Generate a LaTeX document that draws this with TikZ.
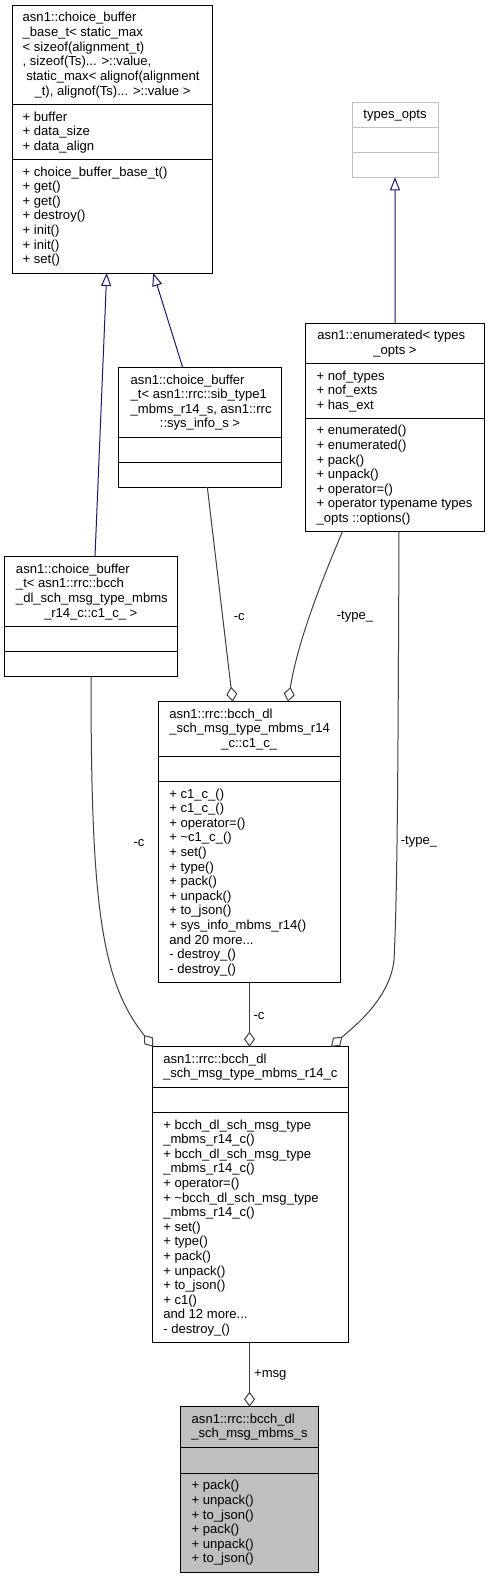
\documentclass[tikz,border=0pt]{standalone}
\usepackage{fontspec}
\setmainfont{Liberation Sans}
\usetikzlibrary{arrows.meta,calc,fit}
\definecolor{inhcol}{HTML}{191970}
\definecolor{usecol}{HTML}{404040}
\definecolor{incgray}{HTML}{BFBFBF}
\definecolor{mainfill}{HTML}{BFBFBF}
\newcommand\tdots{...}
\newcommand\txtlines[4]{\foreach \mytxt [count=\mi] in {#4} {\node[txt, anchor=base west] (#1-\mi) at (#2, {#3+14.6*(\mi-1)}) {\mytxt};}}
\newcommand\umlbox[9]{%
  \coordinate (#1nw) at (#2,#3); \coordinate (#1se) at (#4,#5);
  \node[cls,#8,fit=(#1nw)(#1se)] (#1) {};
  \draw[sepline,draw=#9] (#2,#6) -- (#4,#6);
  \draw[sepline,draw=#9] (#2,#7) -- (#4,#7);}
\begin{document}
\begin{tikzpicture}[x=0.75pt,y=-0.75pt,
  txt/.style={inner sep=0pt, outer sep=0pt, font=\fontsize{9.8pt}{11pt}\selectfont},
  cls/.style={draw=black, line width=0.75pt, inner sep=0pt, outer sep=0pt},
  sepline/.style={line width=0.75pt},
  inh/.style={draw=inhcol, line width=0.75pt, -{Triangle[length=9.75pt, width=7.5pt, fill=white]}},
  use/.style={draw=usecol, line width=0.75pt, -{Diamond[length=11.25pt, width=8.25pt, fill=white]}},
  lbl/.style={txt}]
\fill[white] (0,0) rectangle (490,1577);
\useasboundingbox (0,0) rectangle (490,1577);

% boxes
\umlbox{b1}{12.5}{5.5}{212.5}{273}{104.5}{159.5}{}{black}
\umlbox{types}{352}{102}{438.5}{177.3}{127}{152}{draw=incgray}{incgray}
\umlbox{enum}{305.7}{323.3}{484.3}{531.5}{363.5}{418.3}{}{black}
\umlbox{sib}{118.3}{367.5}{281.7}{487}{437}{462}{}{black}
\umlbox{cb}{4}{556.7}{177.5}{676}{626}{651}{}{black}
\umlbox{c1}{158.3}{701.7}{340}{982.5}{756.5}{781.5}{}{black}
\umlbox{mt}{152.3}{1046.7}{348.3}{1342.5}{1087.3}{1112.5}{}{black}
\umlbox{ms}{180.7}{1406.7}{318.3}{1572}{1447.3}{1473.3}{fill=mainfill}{black}

% texts
\txtlines{b1h}{22.7}{22}{{asn1::choice\_buffer},{\_base\_t< static\_max},{< sizeof(alignment\_t)},{, sizeof(Ts)\tdots{} >::value,},{\ static\_max< alignof(alignment}}
\node[txt, anchor=base] (b1hc) at (112.5,95) {\_t), alignof(Ts)... >::value >};
\txtlines{b1a}{22.7}{121}{{+ buffer},{+ data\_size},{+ data\_align}}
\txtlines{b1m}{22.7}{176}{{+ choice\_buffer\_base\_t()},{+ get()},{+ get()},{+ destroy()},{+ init()},{+ init()},{+ set()}}

\node[txt, anchor=base] (th) at (395,118.5) {types\_opts};

\txtlines{eh}{317.3}{339.8}{{asn1::enumerated< types}}
\node[txt, anchor=base] (ehc) at (395,354.4) {\_opts >};
\txtlines{ea}{316.7}{380}{{+ nof\_types},{+ nof\_exts},{+ has\_ext}}
\txtlines{em}{316.7}{434.8}{{+ enumerated()},{+ enumerated()},{+ pack()},{+ unpack()},{+ operator=()},{+ operator typename types},{\_opts ::options()}}

\txtlines{sh}{130.7}{384}{{asn1::choice\_buffer},{\_t< asn1::rrc::sib\_type1},{\_mbms\_r14\_s, asn1::rrc}}
\node[txt, anchor=base] (shc) at (200,427.8) {::sys\_info\_s >};

\txtlines{ch}{16}{573.2}{{asn1::choice\_buffer},{\_t< asn1::rrc::bcch},{\_dl\_sch\_msg\_type\_mbms}}
\node[txt, anchor=base] (chc) at (90.7,617) {\_r14\_c::c1\_c\_ >};

\txtlines{c1h}{169.3}{718.2}{{asn1::rrc::bcch\_dl},{\_sch\_msg\_type\_mbms\_r14}}
\node[txt, anchor=base] (c1hc) at (249.2,747.4) {\_c::c1\_c\_};
\txtlines{c1m}{169.3}{798}{{+ c1\_c\_()},{+ c1\_c\_()},{+ operator=()},{+ \textasciitilde c1\_c\_()},{+ set()},{+ type()},{+ pack()},{+ unpack()},{+ to\_json()},{+ sys\_info\_mbms\_r14()},{and 20 more\tdots},{- destroy\_()},{- destroy\_()}}

\txtlines{mth}{163.3}{1063.2}{{asn1::rrc::bcch\_dl}}
\node[txt, anchor=base] (mthc) at (250.3,1077.8) {\_sch\_msg\_type\_mbms\_r14\_c};
\txtlines{mtm}{163.3}{1129}{{+ bcch\_dl\_sch\_msg\_type},{\_mbms\_r14\_c()},{+ bcch\_dl\_sch\_msg\_type},{\_mbms\_r14\_c()},{+ operator=()},{+ \textasciitilde bcch\_dl\_sch\_msg\_type},{\_mbms\_r14\_c()},{+ set()},{+ type()},{+ pack()},{+ unpack()},{+ to\_json()},{+ c1()},{and 12 more\tdots},{- destroy\_()}}

\txtlines{msh}{191.7}{1423.2}{{asn1::rrc::bcch\_dl}}
\node[txt, anchor=base] (mshc) at (249.5,1437.8) {\_sch\_msg\_mbms\_s};
\txtlines{msm}{191.7}{1489.8}{{+ pack()},{+ unpack()},{+ to\_json()},{+ pack()},{+ unpack()},{+ to\_json()}}

% inheritance
\draw[inh] ($(cb.north west)+(91,0)$) -- ($(b1.south west)+(94.2,0)$);
\draw[inh] ($(sib.north west)+(64.4,0)$) -- ($(b1.south west)+(140.8,0)$);
\draw[inh] ($(enum.north west)+(89.3,0)$) -- ($(types.south west)+(43,0)$);

% usage
\draw[use] ($(sib.south west)+(89,0)$) -- ($(c1.north west)+(74.4,0)$);
\draw[use] ($(enum.south west)+(36.8,0)$) .. controls (322,580) and (298,640) .. ($(c1.north west)+(129.7,0)$);
\draw[use] ($(cb.south west)+(87,0)$) .. controls (91,900) and (100,980) .. ($(mt.north west)+(1,0)$);
\draw[use] ($(c1.south west)+(91.2,0)$) -- ($(mt.north west)+(97.2,0)$);
\draw[use] ($(enum.south west)+(93.3,0)$) .. controls (398,800) and (397,900) .. (394,960) .. controls (390,1000) and (350,1030) .. ($(mt.north west)+(178.7,0)$);
\draw[use] ($(mt.south west)+(97.2,0)$) -- ($(ms.north west)+(68.8,0)$);

% labels
\node[lbl] (lc1) at (239.3,617) {-c};
\node[lbl] (lt1) at (355,617) {-type\_};
\node[lbl] (lc2) at (139,843) {-c};
\node[lbl] (lt2) at (419,842) {-type\_};
\node[lbl] (lc3) at (259,1015.7) {-c};
\node[lbl] (lm) at (270.3,1375) {+msg};
\end{tikzpicture}
\end{document}
